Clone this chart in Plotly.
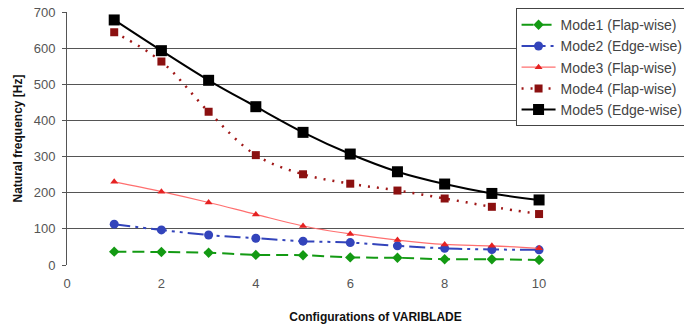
import plotly.graph_objects as go

configs = [1, 2, 3, 4, 5, 6, 7, 8, 9, 10]
mode1 = [37, 36, 34, 28, 27, 21, 20, 16, 16, 14]
mode2 = [113, 97, 83, 74, 66, 62, 53, 46, 43, 42]
mode3 = [230, 203, 173, 140, 108, 86, 69, 57, 53, 46]
mode4 = [644, 563, 424, 304, 251, 225, 206, 184, 161, 141]
mode5 = [678, 593, 511, 438, 367, 307, 258, 224, 198, 180]
x_ticks = [0, 2, 4, 6, 8, 10]
y_ticks = [0, 100, 200, 300, 400, 500, 600, 700]

fig = go.Figure()
fig.add_trace(go.Scatter(x=configs, y=mode1, name="Mode1 (Flap-wise)", mode="lines+markers",
                         line=dict(color="#139a13", width=2, dash="12px,6px", shape="spline"),
                         marker=dict(symbol="diamond", size=8, color="#139a13")))
fig.add_trace(go.Scatter(x=configs, y=mode2, name="Mode2 (Edge-wise)", mode="lines+markers",
                         line=dict(color="#3344bb", width=2, dash="16px,5px,3px,5px,3px,5px", shape="spline"),
                         marker=dict(symbol="circle", size=9, color="#3344bb")))
fig.add_trace(go.Scatter(x=configs, y=mode3, name="Mode3 (Flap-wise)", mode="lines+markers",
                         line=dict(color="#ff6f6f", width=1.2, shape="spline"),
                         marker=dict(symbol="triangle-up", size=7, color="#e52222")))
fig.add_trace(go.Scatter(x=configs, y=mode4, name="Mode4 (Flap-wise)", mode="lines+markers",
                         line=dict(color="#a01818", width=2.5, dash="2px,7px", shape="spline"),
                         marker=dict(symbol="square", size=8, color="#8b1010")))
fig.add_trace(go.Scatter(x=configs, y=mode5, name="Mode5 (Edge-wise)", mode="lines+markers",
                         line=dict(color="#000000", width=2, shape="spline"),
                         marker=dict(symbol="square", size=11, color="#000000")))

fig.update_layout(
    width=684, height=324,
    margin=dict(l=67, r=0, t=12, b=59, autoexpand=False),
    plot_bgcolor="white", paper_bgcolor="white",
    font=dict(family="Liberation Sans, Arial", size=12, color="#555555"),
    showlegend=True,
    legend=dict(x=0.727, y=1.015, xanchor="left", yanchor="top",
                bgcolor="white", bordercolor="#444444", borderwidth=1,
                font=dict(size=14, color="#444444"), tracegroupgap=0,
                itemwidth=34),
    xaxis=dict(range=[0, 13.07], tickvals=x_ticks, ticktext=[str(v) for v in x_ticks],
               showgrid=False, zeroline=False, showline=False,
               ticks="", ticklabelstandoff=9, tickfont=dict(size=13, color="#555555"),
               title=dict(text="<b>Configurations of VARIBLADE</b>", font=dict(size=12, color="#111111"), standoff=23)),
    yaxis=dict(range=[0, 700], tickvals=y_ticks, showgrid=True, gridcolor="#555555", gridwidth=1,
               zeroline=False, showline=True, linecolor="#555555", linewidth=1,
               ticks="outside", ticklen=4, tickcolor="#555555", ticklabelstandoff=4,
               ticklabeloverflow="allow",
               tickfont=dict(size=13, color="#555555"),
               title=dict(text="<b>Natural frequency [Hz]</b>", font=dict(size=12, color="#111111"), standoff=8)),
)
fig.write_html("out.html", config={"displayModeBar": False},
               post_script="document.body.style.margin='0';")
